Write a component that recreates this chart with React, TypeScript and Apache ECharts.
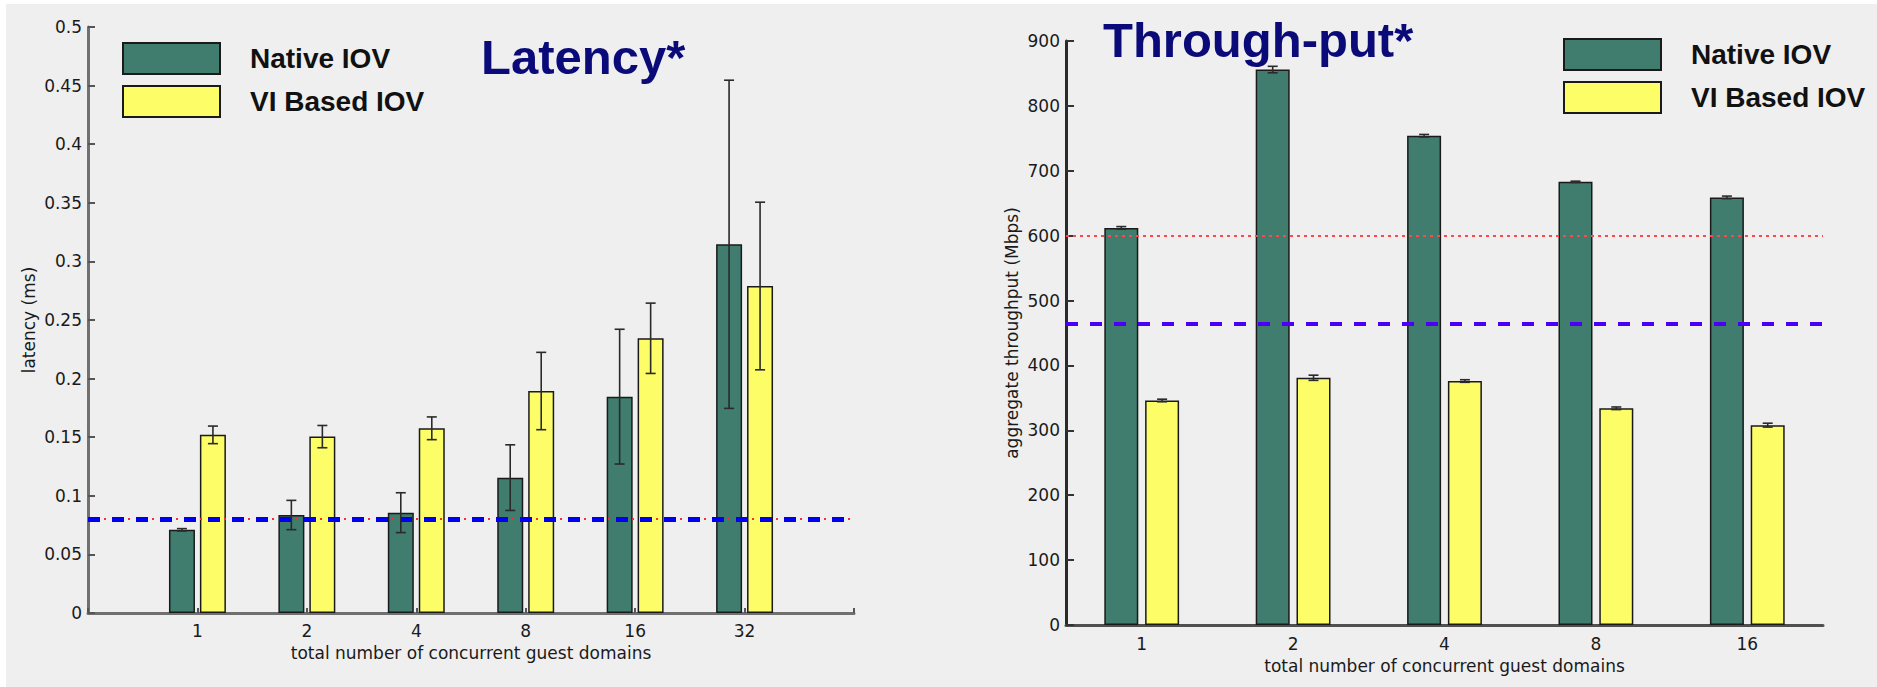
import React, { useEffect, useRef } from "react";
import * as echarts from "echarts";

// ---------- data ----------
const latencyCategories = ["1", "2", "4", "8", "16", "32"];
const latencyNative = [0.071, 0.0836, 0.0856, 0.1155, 0.1846, 0.3146];
const latencyNativeErr = [0.001, 0.0125, 0.017, 0.028, 0.0575, 0.14];
const latencyVI = [0.152, 0.1505, 0.1576, 0.1894, 0.2344, 0.279];
const latencyVIErr = [0.0075, 0.0095, 0.0097, 0.033, 0.03, 0.0715];
const latencyBlueRef = 0.0795;
const latencyRedRef = 0.0755;

const throughputCategories = ["1", "2", "4", "8", "16"];
const throughputNative = [612, 856, 754, 683, 659];
const throughputNativeErr = [2, 5, 2, 1, 2];
const throughputVI = [346, 381, 376, 334, 308];
const throughputVIErr = [2, 4, 2, 2, 3];
const throughputRedRef = 600;
const throughputBlueRef = 464;

const seriesNames = ["Native IOV", "VI Based IOV"];
const titles = ["Latency*", "Through-put*"];
const xAxisName = "total number of concurrent guest domains";
const yNames = ["latency (ms)", "aggregate throughput (Mbps)"];

// ---------- styles ----------
const GREEN = "#407d6e";
const YELLOW = "#fdfd68";
const NAVY = "#0a0a78";
const TICK_FONT = { fontFamily: "DejaVu Sans", fontSize: 17, color: "#1a1a1a" };

function errData(vals: number[], errs: number[], pad: number) {
  return vals.map((v, i) => [i + pad, v - errs[i], v + errs[i]]);
}

function errRender(offset: number, cap: number) {
  return (params: any, api: any) => {
    const x = api.value(0);
    const lo = api.value(1);
    const hi = api.value(2);
    const pHi = api.coord([x, hi]);
    const pLo = api.coord([x, lo]);
    const cx = pHi[0] + offset;
    const st = { stroke: "#2a2a2a", lineWidth: 1.6 };
    return {
      type: "group",
      children: [
        { type: "line", shape: { x1: cx, y1: pHi[1], x2: cx, y2: pLo[1] }, style: st },
        { type: "line", shape: { x1: cx - cap, y1: pHi[1], x2: cx + cap, y2: pHi[1] }, style: st },
        { type: "line", shape: { x1: cx - cap, y1: pLo[1], x2: cx + cap, y2: pLo[1] }, style: st },
      ],
    };
  };
}

export default function App() {
  const ref = useRef<HTMLDivElement>(null);
  useEffect(() => {
    if (!ref.current) return;
    const chart = echarts.init(ref.current, undefined, { renderer: "svg" });
    const latCats = ["", ...latencyCategories, ""];
    const pad = (arr: number[]) => ["-", ...arr, "-"];

    const legendCommon = {
      orient: "vertical",
      padding: 0,
      itemWidth: 97,
      itemHeight: 31,
      itemGap: 10,
      icon: "rect",
      selectedMode: false,
      data: seriesNames,
      textStyle: {
        fontFamily: "Liberation Sans",
        fontWeight: "bold",
        fontSize: 28,
        color: "#111",
        padding: [0, 0, 0, 25],
        lineHeight: 31,
      },
    };

    const option: any = {
      animation: false,
      backgroundColor: "#ffffff",
      graphic: [
        { type: "rect", z: -10, shape: { x: 6, y: 4, width: 1877, height: 687 }, style: { fill: "#efefef" } },
        {
          type: "text",
          x: 481,
          y: 57,
          style: { text: titles[0], fill: NAVY, font: 'bold 49px "Liberation Sans"', verticalAlign: "middle" },
        },
        {
          type: "text",
          x: 1103,
          y: 40,
          style: { text: titles[1], fill: NAVY, font: 'bold 49px "Liberation Sans"', verticalAlign: "middle" },
        },
      ],
      legend: [
        { ...legendCommon, left: 122, top: 42 },
        { ...legendCommon, left: 1563, top: 38 },
      ],
      grid: [
        { left: 88, top: 27, width: 766, height: 586 },
        { left: 1066, top: 41, width: 757, height: 584 },
      ],
      xAxis: [
        {
          type: "category",
          gridIndex: 0,
          data: latCats,
          boundaryGap: false,
          axisLine: { lineStyle: { color: "#707070", width: 3 } },
          axisTick: { inside: true, length: 5, lineStyle: { color: "#555", width: 2 } },
          axisLabel: { ...TICK_FONT, margin: 9 },
          name: xAxisName,
          nameLocation: "middle",
          nameGap: 31,
          nameTextStyle: { ...TICK_FONT },
        },
        {
          type: "category",
          gridIndex: 1,
          data: throughputCategories,
          boundaryGap: true,
          axisLine: { lineStyle: { color: "#505050", width: 3 } },
          axisTick: { inside: true, length: 5, alignWithLabel: false, lineStyle: { color: "#333", width: 2 } },
          axisLabel: { ...TICK_FONT, margin: 10 },
          name: xAxisName,
          nameLocation: "middle",
          nameGap: 32,
          nameTextStyle: { ...TICK_FONT },
        },
        {
          type: "category",
          gridIndex: 1,
          data: throughputCategories,
          boundaryGap: true,
          axisLine: { show: false },
          axisTick: { inside: true, length: 4, alignWithLabel: true, lineStyle: { color: "#333", width: 2 } },
          axisLabel: { show: false },
        },
      ],
      yAxis: [
        {
          type: "value",
          gridIndex: 0,
          min: 0,
          max: 0.5,
          interval: 0.05,
          splitLine: { show: false },
          axisLine: { show: true, lineStyle: { color: "#707070", width: 3 } },
          axisTick: { show: true, inside: true, length: 7, lineStyle: { color: "#555", width: 2 } },
          axisLabel: { ...TICK_FONT, margin: 6 },
          name: yNames[0],
          nameLocation: "middle",
          nameGap: 51,
          nameTextStyle: { ...TICK_FONT },
        },
        {
          type: "value",
          gridIndex: 1,
          min: 0,
          max: 900,
          interval: 100,
          splitLine: { show: false },
          axisLine: { show: true, lineStyle: { color: "#2a2a2a", width: 3 } },
          axisTick: { show: true, inside: true, length: 8, lineStyle: { color: "#333", width: 2 } },
          axisLabel: { ...TICK_FONT, margin: 6 },
          name: yNames[1],
          nameLocation: "middle",
          nameGap: 46,
          nameTextStyle: { ...TICK_FONT },
        },
      ],
      series: [
        {
          name: seriesNames[0],
          type: "bar",
          xAxisIndex: 0,
          yAxisIndex: 0,
          data: pad(latencyNative),
          barWidth: 26,
          barGap: "19%",
          itemStyle: { color: GREEN, borderColor: "#1a1a1a", borderWidth: 1.5 },
          markLine: {
            silent: true,
            symbol: "none",
            label: { show: false },
            data: [
              { yAxis: latencyRedRef, lineStyle: { color: "#ff2a2a", width: 2, type: [2, 6] } },
              { yAxis: latencyBlueRef, lineStyle: { color: "#0000f0", width: 5, type: [12, 12] } },
            ],
          },
        },
        {
          name: seriesNames[1],
          type: "bar",
          xAxisIndex: 0,
          yAxisIndex: 0,
          data: pad(latencyVI),
          barWidth: 26,
          barGap: "19%",
          itemStyle: { color: YELLOW, borderColor: "#1a1a1a", borderWidth: 1.5 },
        },
        {
          type: "custom",
          xAxisIndex: 0,
          yAxisIndex: 0,
          z: 5,
          renderItem: errRender(-15.5, 5),
          encode: { x: 0, y: [1, 2] },
          data: errData(latencyNative, latencyNativeErr, 1),
        },
        {
          type: "custom",
          xAxisIndex: 0,
          yAxisIndex: 0,
          z: 5,
          renderItem: errRender(15.5, 5),
          encode: { x: 0, y: [1, 2] },
          data: errData(latencyVI, latencyVIErr, 1),
        },
        {
          name: seriesNames[0],
          type: "bar",
          xAxisIndex: 1,
          yAxisIndex: 1,
          data: throughputNative,
          barWidth: 34,
          barGap: "20%",
          itemStyle: { color: GREEN, borderColor: "#1a1a1a", borderWidth: 1.5 },
          markLine: {
            silent: true,
            symbol: "none",
            label: { show: false },
            data: [
              { yAxis: throughputRedRef, lineStyle: { color: "#ff4848", width: 2, type: [3, 4] } },
              { yAxis: throughputBlueRef, lineStyle: { color: "#4a00f5", width: 4, type: [12, 12] } },
            ],
          },
        },
        {
          name: seriesNames[1],
          type: "bar",
          xAxisIndex: 1,
          yAxisIndex: 1,
          data: throughputVI,
          barWidth: 34,
          barGap: "20%",
          itemStyle: { color: YELLOW, borderColor: "#1a1a1a", borderWidth: 1.5 },
        },
        {
          type: "custom",
          xAxisIndex: 1,
          yAxisIndex: 1,
          z: 5,
          renderItem: errRender(-20.4, 5),
          encode: { x: 0, y: [1, 2] },
          data: errData(throughputNative, throughputNativeErr, 0),
        },
        {
          type: "custom",
          xAxisIndex: 1,
          yAxisIndex: 1,
          z: 5,
          renderItem: errRender(20.4, 5),
          encode: { x: 0, y: [1, 2] },
          data: errData(throughputVI, throughputVIErr, 0),
        },
      ],
    };
    chart.setOption(option);
    return () => chart.dispose();
  }, []);
  return (
    <div
      ref={ref}
      style={{ position: "absolute", left: 0, top: 0, width: 1877, height: 687 }}
    />
  );
}
